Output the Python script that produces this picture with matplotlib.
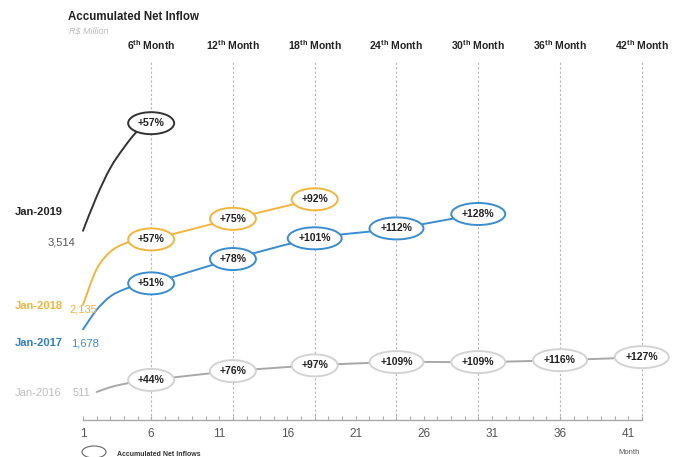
import matplotlib
matplotlib.use("Agg")
import matplotlib.pyplot as plt
from matplotlib.patches import Ellipse, PathPatch
from matplotlib.path import Path
from matplotlib.transforms import blended_transform_factory

plt.rcParams["font.family"] = ["Liberation Sans", "DejaVu Sans"]
plt.rcParams["mathtext.fontset"] = "custom"
plt.rcParams["mathtext.rm"] = "Liberation Sans"
plt.rcParams["mathtext.bf"] = "Liberation Sans:bold"

# ---- data -------------------------------------------------------------
milestones = [6, 12, 18, 24, 30, 36, 42]
tick_months = [1, 6, 11, 16, 21, 26, 31, 36, 41]

cohorts = ["Jan-2019", "Jan-2018", "Jan-2017", "Jan-2016"]
start_values = [3514, 2135, 1678, 511]

# first months of each cohort (R$ million), before the 6th-month mark
ramp_months_2019 = [1, 2, 3, 4, 5]
ramp_values_2019 = [3514, 4150, 4680, 5060, 5370]
ramp_months_2018 = [1, 2, 3, 4, 5]
ramp_values_2018 = [2135, 2800, 3120, 3270, 3330]
ramp_months_2017 = [1, 2, 3, 4, 5]
ramp_values_2017 = [1678, 2040, 2290, 2420, 2500]
ramp_months_2016 = [2, 3, 4, 5]
ramp_values_2016 = [511, 600, 660, 705]

# growth over the starting balance at each milestone (%)
growth_2019 = [57]
growth_2018 = [57, 75, 92]
growth_2017 = [51, 78, 101, 112, 128]
growth_2016 = [44, 76, 97, 109, 109, 116, 127]

# ---- style ------------------------------------------------------------
line_colors = ["#333333", "#f2b63f", "#3a8dcf", "#a8a8a8"]
edge_colors = ["#333333", "#f2b63f", "#3a8dcf", "#d3d3d3"]
name_colors = ["#222222", "#f0b43c", "#2f7fc1", "#bdbdbd"]
value_colors = ["#555555", "#f0b43c", "#3a8dcf", "#bdbdbd"]
name_weights = ["bold", "bold", "bold", "normal"]
name_y_px = [212, 306, 343, 393]
value_y_px = [243, 309, 343, 393]
value_x_px = [75, 69, 71, 73]
value_ha = ["right", "left", "left", "left"]


def smooth_path(xs, ys):
    """Catmull-Rom curve through the points, as cubic Bezier segments."""
    pts = list(zip(xs, ys))
    verts = [pts[0]]
    codes = [Path.MOVETO]
    n = len(pts)
    for i in range(n - 1):
        p0 = pts[i - 1] if i > 0 else pts[i]
        p1 = pts[i]
        p2 = pts[i + 1]
        p3 = pts[i + 2] if i + 2 < n else pts[i + 1]
        c1 = (p1[0] + (p2[0] - p0[0]) / 6, p1[1] + (p2[1] - p0[1]) / 6)
        c2 = (p2[0] - (p3[0] - p1[0]) / 6, p2[1] - (p3[1] - p1[1]) / 6)
        verts += [c1, c2, p2]
        codes += [Path.CURVE4] * 3
    return Path(verts, codes)


W, H = 674, 457
fig = plt.figure(figsize=(W / 100, H / 100), dpi=100)
ax = fig.add_axes([0, 37 / H, 1, 420 / H])
PX_PER_MONTH = 13.63
PX_PER_UNIT = 0.0537
x_lo = 1 - 83 / PX_PER_MONTH
ax.set_xlim(x_lo, x_lo + W / PX_PER_MONTH)
y_lo = 511 - 28 / PX_PER_UNIT
ax.set_ylim(y_lo, y_lo + 420 / PX_PER_UNIT)

for s in ("left", "top", "right"):
    ax.spines[s].set_visible(False)
ax.spines["bottom"].set_color("#aaaaaa")
ax.spines["bottom"].set_linewidth(1.0)
ax.spines["bottom"].set_bounds(1, 42)
ax.set_yticks([])
ax.set_xticks(tick_months)
ax.set_xticklabels([str(m) for m in tick_months])
ax.set_xticks(range(1, 43), minor=True)
ax.tick_params(axis="x", which="both", direction="in", length=3,
               color="#aaaaaa", width=0.8)
ax.tick_params(axis="x", which="major", labelsize=8.5, labelcolor="#555555",
               pad=6)

# milestone guides
top_val = y_lo + (420 - 60) / PX_PER_UNIT
ax.vlines(milestones, y_lo, top_val, colors="#b5b5b5", linestyles=(0, (2, 2)),
          linewidth=0.8, zorder=1)

hdr = blended_transform_factory(ax.transData, fig.transFigure)
for m in milestones:
    ax.text(m, 1 - 45 / H, f"{m}$^{{\\mathbf{{th}}}}$ Month", transform=hdr,
            ha="center", va="center", fontsize=7.5, fontweight="bold",
            color="#222222")

ramps = [
    (ramp_months_2019, ramp_values_2019, growth_2019),
    (ramp_months_2018, ramp_values_2018, growth_2018),
    (ramp_months_2017, ramp_values_2017, growth_2017),
    (ramp_months_2016, ramp_values_2016, growth_2016),
]

ell_h = 22 / PX_PER_UNIT
for i, (rm, rv, gr) in enumerate(ramps):
    start = start_values[i]
    mile_m = milestones[:len(gr)]
    mile_v = [start * (1 + g / 100) for g in gr]
    xs = list(rm) + mile_m
    ys = list(rv) + mile_v
    ax.add_patch(PathPatch(smooth_path(xs, ys), facecolor="none",
                           edgecolor=line_colors[i], lw=1.4, zorder=2,
                           capstyle="round"))
    for m, v, g in zip(mile_m, mile_v, gr):
        label = f"+{g}%"
        w_px = 14 + 8 * len(label)
        ax.add_patch(Ellipse((m, v), w_px / PX_PER_MONTH, ell_h,
                             facecolor="white", edgecolor=edge_colors[i],
                             lw=1.4, zorder=3))
        ax.text(m, v, label, ha="center", va="center", fontsize=7.5,
                fontweight="bold", color="#222222", zorder=4)

    # cohort name and starting balance
    fig.text(15 / W, 1 - name_y_px[i] / H, cohorts[i], ha="left", va="center",
             fontsize=8, fontweight=name_weights[i], color=name_colors[i])
    fig.text(value_x_px[i] / W, 1 - value_y_px[i] / H, f"{start:,}",
             ha=value_ha[i], va="center", fontsize=8, color=value_colors[i])

fig.text(68 / W, 1 - 17 / H, "Accumulated Net Inflow", ha="left",
         va="center", fontsize=8.3, fontweight="bold", color="#222222")
fig.text(69 / W, 1 - 31 / H, "R$ Million", ha="left", va="center",
         fontsize=6.5, style="italic", color="#bbbbbb")

fig.add_artist(Ellipse((94 / W, 1 - 452 / H), 24 / W, 12 / H,
                       transform=fig.transFigure, facecolor="white",
                       edgecolor="#666666", lw=0.8))
fig.text(117 / W, 1 - 454 / H, "Accumulated Net Inflows", ha="left",
         va="center", fontsize=5, fontweight="bold", color="#333333")
fig.text(640 / W, 1 - 452 / H, "Month", ha="right", va="center",
         fontsize=5.5, color="#555555")

fig.savefig("out.png", dpi=100)
